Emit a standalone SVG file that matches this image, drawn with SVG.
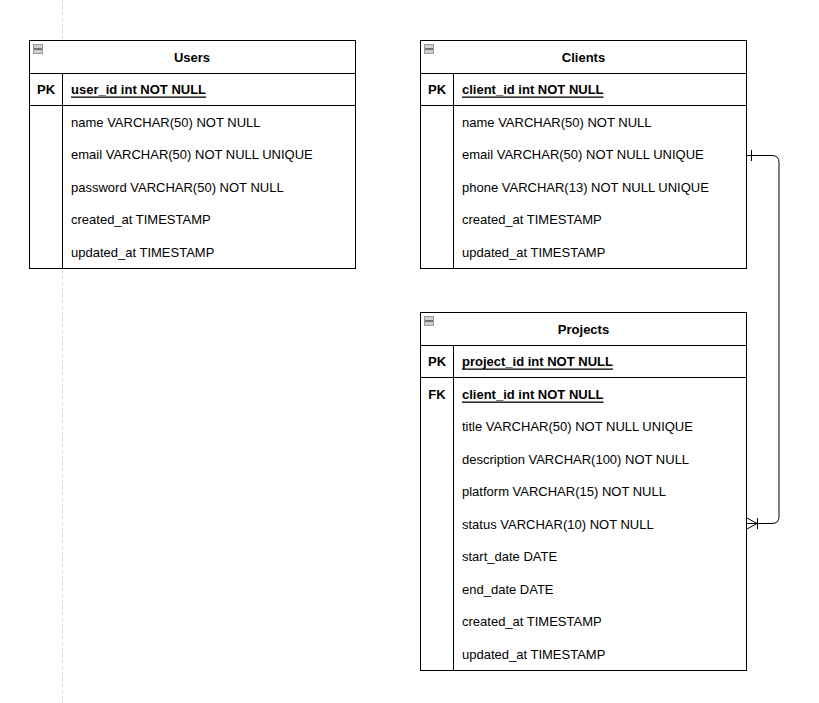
<svg xmlns="http://www.w3.org/2000/svg" width="819" height="703" viewBox="0 0 819 703">
<style>
.box{fill:#fff;stroke:#000;stroke-width:1}
.ln{stroke:#000;stroke-width:1;fill:none}
text{font-family:"Liberation Sans",Arial,sans-serif;font-size:13px;fill:#000;dominant-baseline:central}
.t{font-weight:bold;text-anchor:middle}
.k{font-weight:bold;text-anchor:middle}
.kf{font-weight:bold;text-decoration:underline}
.ic{fill:#cfcfcf;stroke:#9a9a9a;stroke-width:1}
.im{stroke:#555;stroke-width:1.5}
</style>
<rect width="819" height="703" fill="#fff"/>
<line x1="62.5" y1="0" x2="62.5" y2="703" stroke="#d4d4d4" stroke-width="1" stroke-dasharray="3 3"/>

<g id="users">
<rect class="box" x="29.5" y="40.5" width="326" height="228"/>
<line class="ln" x1="29.5" y1="73.5" x2="355.5" y2="73.5"/>
<line class="ln" x1="29.5" y1="105.5" x2="355.5" y2="105.5"/>
<line class="ln" x1="62.5" y1="73.5" x2="62.5" y2="268.5"/>
<rect class="ic" x="33.5" y="44.5" width="9" height="9"/><line class="im" x1="34" y1="49" x2="42" y2="49"/>
<text class="t" x="192" y="57">Users</text>
<text class="k" x="46" y="89">PK</text>
<text class="kf" x="71" y="89">user_id int NOT NULL</text>
<text x="71" y="122">name VARCHAR(50) NOT NULL</text>
<text x="71" y="154.5">email VARCHAR(50) NOT NULL UNIQUE</text>
<text x="71" y="187">password VARCHAR(50) NOT NULL</text>
<text x="71" y="219.5">created_at TIMESTAMP</text>
<text x="71" y="252">updated_at TIMESTAMP</text>
</g>

<g id="clients">
<rect class="box" x="420.5" y="40.5" width="326" height="228"/>
<line class="ln" x1="420.5" y1="73.5" x2="746.5" y2="73.5"/>
<line class="ln" x1="420.5" y1="105.5" x2="746.5" y2="105.5"/>
<line class="ln" x1="453.5" y1="73.5" x2="453.5" y2="268.5"/>
<rect class="ic" x="424.5" y="44.5" width="9" height="9"/><line class="im" x1="425" y1="49" x2="433" y2="49"/>
<text class="t" x="583.5" y="57">Clients</text>
<text class="k" x="437" y="89">PK</text>
<text class="kf" x="462" y="89">client_id int NOT NULL</text>
<text x="462" y="122">name VARCHAR(50) NOT NULL</text>
<text x="462" y="154.5">email VARCHAR(50) NOT NULL UNIQUE</text>
<text x="462" y="187">phone VARCHAR(13) NOT NULL UNIQUE</text>
<text x="462" y="219.5">created_at TIMESTAMP</text>
<text x="462" y="252">updated_at TIMESTAMP</text>
</g>

<g id="projects">
<rect class="box" x="420.5" y="312.5" width="326" height="358"/>
<line class="ln" x1="420.5" y1="345.5" x2="746.5" y2="345.5"/>
<line class="ln" x1="420.5" y1="377.5" x2="746.5" y2="377.5"/>
<line class="ln" x1="453.5" y1="345.5" x2="453.5" y2="670.5"/>
<rect class="ic" x="424.5" y="316.5" width="9" height="9"/><line class="im" x1="425" y1="321" x2="433" y2="321"/>
<text class="t" x="583.5" y="329">Projects</text>
<text class="k" x="437" y="361">PK</text>
<text class="kf" x="462" y="361">project_id int NOT NULL</text>
<text class="k" x="437" y="394">FK</text>
<text class="kf" x="462" y="394">client_id int NOT NULL</text>
<text x="462" y="426.5">title VARCHAR(50) NOT NULL UNIQUE</text>
<text x="462" y="459">description VARCHAR(100) NOT NULL</text>
<text x="462" y="491.5">platform VARCHAR(15) NOT NULL</text>
<text x="462" y="524">status VARCHAR(10) NOT NULL</text>
<text x="462" y="556.5">start_date DATE</text>
<text x="462" y="589">end_date DATE</text>
<text x="462" y="621.5">created_at TIMESTAMP</text>
<text x="462" y="654">updated_at TIMESTAMP</text>
</g>

<g id="connectors" fill="none" stroke="#000" stroke-width="1">
<path d="M747,155.5 H772 Q779,155.5 779,162.5 V516.5 Q779,523.5 772,523.5 H747"/>
<path d="M751.5,150 V161"/>
<path d="M747,518 L757,523.5 L747,529"/>
<path d="M757.5,518 V529"/>
</g>
</svg>
